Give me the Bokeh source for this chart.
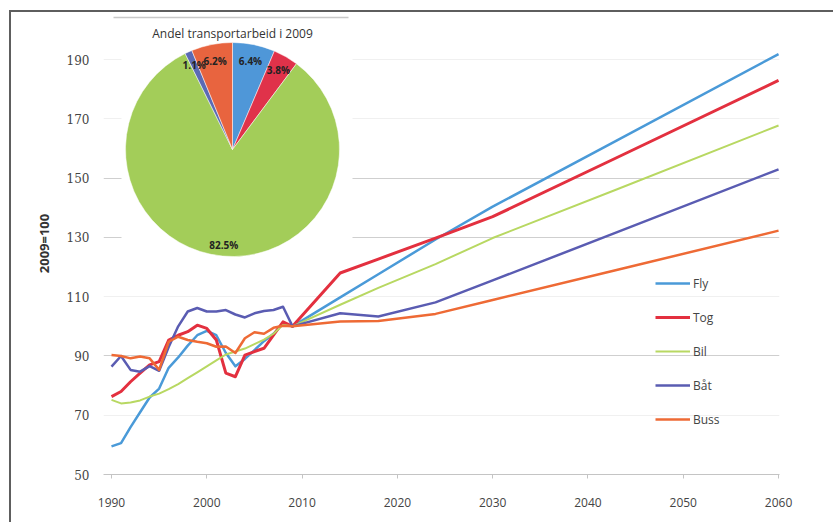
import numpy as np
from bokeh.plotting import figure
from bokeh.models import Range1d, FixedTicker, Legend, LegendItem, Grid
from bokeh.embed import file_html
from bokeh.resources import INLINE
from bokeh.core.properties import value

# ---------------- data ----------------
years = [1990, 1991, 1992, 1993, 1994, 1995, 1996, 1997, 1998, 1999,
         2000, 2001, 2002, 2003, 2004, 2005, 2006, 2007, 2008, 2009,
         2014, 2018, 2024, 2030, 2043, 2060]

fly = [59.5, 60.6, 66, 71, 76, 79, 86, 89.5, 93.5, 97,
       98.5, 97, 91, 86.5, 89, 92, 95, 97.5, 101, 100,
       109.8, 117.6, 129.3, 140.4, 162.7, 191.9]
tog = [76.3, 78, 81.3, 84.2, 87, 88.1, 95.4, 97, 98.2, 100.4,
       99.3, 95.4, 84.2, 83, 90.3, 91.5, 92.6, 97, 101.5, 100,
       118, 122.7, 129.8, 137, 156.9, 183]
bil = [75.2, 74, 74.3, 75, 76.3, 77.3, 78.8, 80.5, 82.5, 84.5,
       86.5, 88.5, 90.5, 91.5, 92.5, 94, 95.5, 97.5, 100.5, 100,
       107.3, 113, 121, 129.8, 146.2, 167.8]
bat = [86.4, 90, 85.3, 84.7, 86.6, 85, 93, 100, 105, 106.2,
       105, 105, 105.5, 104, 103, 104.4, 105.2, 105.5, 106.6, 100,
       104.4, 103.3, 108.1, 115.5, 131.7, 153]
buss = [90.3, 90, 89.2, 89.8, 89.2, 85.3, 94.8, 96.5, 95.4, 94.8,
        94.3, 93.1, 93.2, 91, 96, 98, 97.5, 99.5, 100.2, 100,
        101.6, 101.8, 104.2, 108.9, 119, 132.3]

series_names = ["Fly", "Tog", "Bil", "Båt", "Buss"]
series_values = [fly, tog, bil, bat, buss]
line_colors = ["#4a9ad8", "#e3303f", "#b8d862", "#5a5cb2", "#ee6a35"]
line_widths = [2.5, 3, 2, 2.5, 2.5]

pie_labels = ["Fly", "Tog", "Bil", "Båt", "Buss"]
pie_shares = [6.4, 3.8, 82.5, 1.1, 6.2]
pie_colors = ["#4f97d8", "#e0324a", "#a3cd59", "#5b6ab4", "#e8643f"]
pie_title = "Andel transportarbeid i 2009"

y_ticks = [50, 70, 90, 110, 130, 150, 170, 190]
x_ticks = [1990, 2000, 2010, 2020, 2030, 2040, 2050, 2060]

# ---------------- layout constants (page pixels) ----------------
PAGE_W, PAGE_H = 835, 524
OFF_X, OFF_Y = 11, 12                      # canvas origin on page (after border)
W, H = PAGE_W - OFF_X, PAGE_H - OFF_Y
FL, FR, FT, FB = 103, 779, OFF_Y, 474      # frame edges on page
X0, X1 = 1989.16, 2060.1
PPX = (FR - FL) / (X1 - X0)
Y0 = 50
PPY = 2.963
Y1 = Y0 + (FB - FT) / PPY

def dx(sx):
    return X0 + (sx - FL) / PPX

def dy(sy):
    return Y0 + (FB - sy) / PPY

SANS = "Open Sans"

p = figure(width=W, height=H, output_backend="svg", toolbar_location=None,
           x_range=Range1d(X0, X1), y_range=Range1d(Y0, Y1),
           min_border_left=FL - OFF_X, min_border_right=PAGE_W - FR,
           min_border_top=0, min_border_bottom=PAGE_H - FB)
p.margin = (10, 0, 0, 9)
p.styles = {"border-left": "2px solid #5e5e5e", "border-top": "2px solid #5e5e5e"}
p.outline_line_color = None
p.background_fill_color = "white"
p.border_fill_color = "white"

# axes
p.xaxis.ticker = FixedTicker(ticks=x_ticks)
p.xaxis.axis_line_color = "#c4c4c4"
p.xaxis.major_tick_line_color = "#c4c4c4"
p.xaxis.major_tick_in = 0
p.xaxis.major_tick_out = 4
p.xaxis.minor_tick_line_color = None
p.xaxis.major_label_text_font = SANS
p.xaxis.major_label_text_font_size = "12px"
p.xaxis.major_label_text_color = "#444444"
p.xaxis.major_label_standoff = 19

p.yaxis.ticker = FixedTicker(ticks=y_ticks)
p.yaxis.axis_line_color = None
p.yaxis.major_tick_line_color = None
p.yaxis.minor_tick_line_color = None
p.yaxis.major_label_text_font = "DejaVu Serif"
p.yaxis.major_label_text_font_size = "12px"
p.yaxis.major_label_text_color = "#444444"
p.yaxis.major_label_standoff = 8
p.yaxis.axis_label = "2009=100"
p.yaxis.axis_label_text_font = SANS
p.yaxis.axis_label_text_font_style = "bold"
p.yaxis.axis_label_text_font_size = "13px"
p.yaxis.axis_label_text_color = "#333333"
p.yaxis.axis_label_standoff = 11

p.xgrid.grid_line_color = None
p.ygrid.ticker = FixedTicker(ticks=[90, 130, 150])
p.ygrid.grid_line_color = "#cfcfcf"
p.ygrid.grid_line_width = 1
p.add_layout(Grid(dimension=1, ticker=FixedTicker(ticks=[70, 110, 170, 190]),
                  grid_line_color="#f0f0f0", grid_line_width=1))

# inset (pie) white background and its top rule
p.quad(left=[dx(121)], right=[dx(352)], top=[dy(17)], bottom=[dy(290)],
       fill_color="white", line_color=None)
p.segment(x0=[dx(113)], x1=[dx(348)], y0=[dy(17)], y1=[dy(17)],
          line_color="#c8c8c8", line_width=1.5)

# lines
items = []
for name, vals, col, lw in zip(series_names, series_values, line_colors, line_widths):
    r = p.line(years, vals, line_color=col, line_width=lw, line_join="round")
    items.append(LegendItem(label=name, renderers=[r]))

legend = Legend(items=items, location=(552, 45), orientation="vertical",
                glyph_width=35, glyph_height=20, label_height=20, spacing=14,
                padding=0, margin=0, label_standoff=3,
                border_line_alpha=0, background_fill_alpha=0,
                label_text_font=SANS, label_text_font_size="12px",
                label_text_color="#444444")
p.add_layout(legend)

# pie
cx, cy, R = dx(232), dy(149), 107
shares = np.array(pie_shares) / sum(pie_shares)
cum = np.concatenate([[0], np.cumsum(shares)])
starts = np.pi / 2 - cum[1:] * 2 * np.pi
ends = np.pi / 2 - cum[:-1] * 2 * np.pi
p.wedge(x=[cx] * len(shares), y=[cy] * len(shares), radius=R, radius_units="screen",
        start_angle=starts, end_angle=ends, fill_color=pie_colors,
        line_color="white", line_width=0.5)

mids = (cum[:-1] + cum[1:]) / 2 * 2 * np.pi
rl = [90, 92, 96, 93, 90]
xo = [r * np.sin(m) for r, m in zip(rl, mids)]
yo = [-r * np.cos(m) for r, m in zip(rl, mids)]
p.text(x=[cx] * len(shares), y=[cy] * len(shares),
       text=[f"{s:.1f}%" for s in pie_shares], x_offset=xo, y_offset=yo,
       text_align="center", text_baseline="middle",
       text_font=value(SANS), text_font_size="10px", text_font_style="bold",
       text_color="#222222")
p.text(x=[cx], y=[cy], text=[pie_title], y_offset=[-116],
       text_align="center", text_baseline="middle",
       text_font=value(SANS), text_font_size="12px", text_color="#333333")

open("out.html", "w").write(file_html(p, INLINE))
